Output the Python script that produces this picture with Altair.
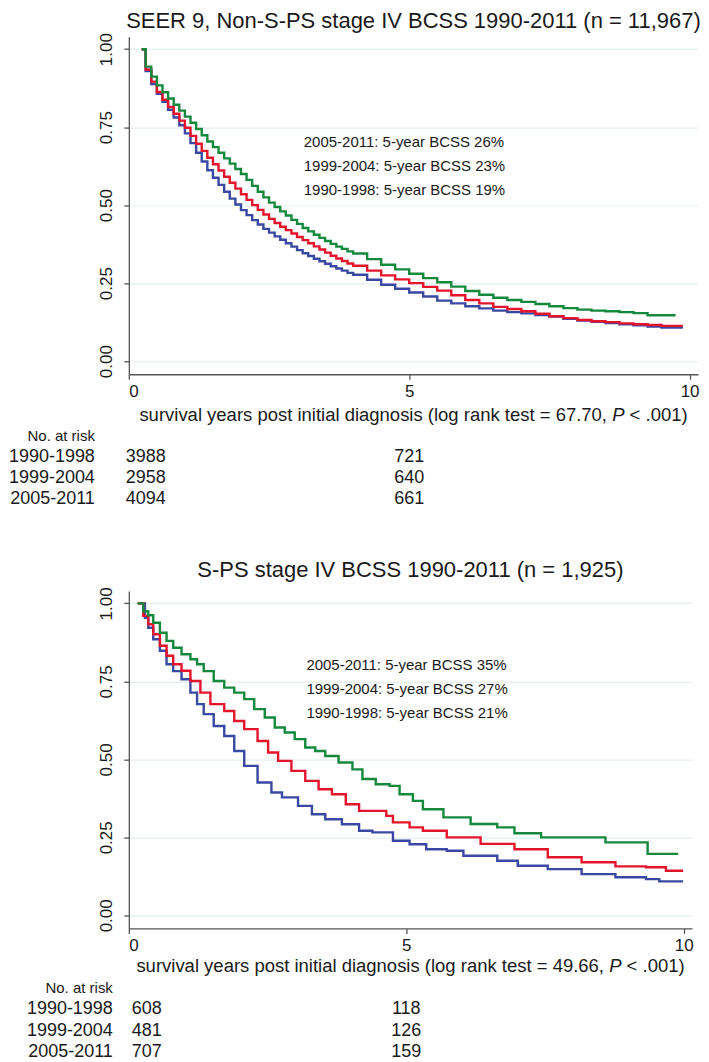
import altair as alt
import pandas as pd

FONT = "Liberation Sans, Arial, Helvetica, sans-serif"
TEXT_C = "#1a1a1a"
AXIS_C = "#555555"
GRID_C = "#e6eff0"

COHORTS = ["1990-1998", "1999-2004", "2005-2011"]
COLORS = ["#3a48a2", "#e3152c", "#14893d"]
RISK_TIMES = [0, 5]

# ---------------- top panel: Non-S-PS ----------------
TOP_TITLE = "SEER 9, Non-S-PS stage IV BCSS 1990-2011 (n = 11,967)"
TOP_LOGRANK = "67.70"
TOP_NOTES = ["2005-2011: 5-year BCSS 26%", "1999-2004: 5-year BCSS 23%", "1990-1998: 5-year BCSS 19%"]
TOP_TIME = [0.23, 0.3, 0.4, 0.5, 0.6, 0.7, 0.8, 0.9, 1.0, 1.1, 1.2, 1.3, 1.4, 1.5, 1.6, 1.7, 1.8, 1.9,
            2.0, 2.1, 2.2, 2.3, 2.4, 2.5, 2.6, 2.7, 2.8, 2.9, 3.0, 3.1, 3.2, 3.3, 3.4, 3.5, 3.6, 3.7,
            3.8, 3.9, 4.0, 4.25, 4.5, 4.75, 5.0, 5.25, 5.5, 5.75, 6.0, 6.25, 6.5, 6.75, 7.0, 7.25,
            7.5, 7.75, 8.0, 8.25, 8.5, 8.75, 9.0, 9.25, 9.5]
TOP_S_1990 = [1.0, .930, .888, .857, .831, .806, .781, .756, .730, .699, .668, .640, .612, .588, .565, .543,
              .521, .502, .484, .468, .452, .438, .424, .412, .400, .389, .378, .367, .356, .346, .337, .328,
              .320, .312, .304, .297, .290, .283, .277, .261, .245, .232, .220, .207, .194, .185, .176, .169,
              .162, .157, .153, .148, .143, .136, .130, .126, .122, .118, .115, .111, .108]
TOP_S_1999 = [1.0, .935, .896, .863, .838, .815, .793, .771, .748, .722, .697, .674, .652, .631, .611, .591,
              .572, .553, .535, .517, .500, .485, .470, .456, .443, .431, .420, .409, .398, .388, .378, .368,
              .358, .348, .338, .329, .321, .313, .306, .290, .275, .262, .250, .238, .226, .211, .196, .185,
              .174, .167, .160, .152, .144, .138, .132, .128, .125, .121, .118, .116, .113]
TOP_S_2005 = [1.0, .944, .912, .884, .862, .842, .822, .803, .784, .764, .744, .724, .704, .686, .668, .650,
              .633, .616, .600, .581, .562, .543, .525, .508, .494, .480, .467, .453, .440, .427, .416, .405,
              .395, .385, .376, .367, .360, .352, .345, .327, .309, .294, .280, .266, .253, .239, .225, .213,
              .203, .196, .190, .183, .176, .170, .165, .162, .160, .157, .154, .147, .147]
TOP_END = [9.88, 9.88, 9.75]
TOP_RISK = [[3988, 721], [2958, 640], [4094, 661]]

# ---------------- bottom panel: S-PS ----------------
BOT_TITLE = "S-PS stage IV BCSS 1990-2011 (n = 1,925)"
BOT_LOGRANK = "49.66"
BOT_NOTES = ["2005-2011: 5-year BCSS 35%", "1999-2004: 5-year BCSS 27%", "1990-1998: 5-year BCSS 21%"]
BOT_T_1990 = [0.16, 0.29, 0.35, 0.44, 0.56, 0.68, 0.80, 0.95, 1.11, 1.23, 1.35, 1.53, 1.72, 1.90, 2.08, 2.32,
              2.57, 2.76, 3.05, 3.30, 3.54, 3.84, 4.15, 4.39, 4.76, 5.06, 5.36, 5.73, 6.03, 6.64, 7.01, 7.55,
              8.16, 8.77, 9.32, 9.56]
BOT_S_1990 = [1.0, .954, .922, .885, .848, .805, .783, .757, .714, .677, .645, .607, .575, .527, .479, .426,
              .394, .378, .351, .324, .308, .292, .271, .266, .239, .228, .212, .207, .191, .175, .159, .148,
              .132, .122, .116, .109]
BOT_T_1999 = [0.16, 0.26, 0.35, 0.44, 0.56, 0.68, 0.80, 0.95, 1.11, 1.29, 1.47, 1.72, 1.90, 2.08, 2.32, 2.51,
              2.69, 2.93, 3.18, 3.42, 3.66, 3.91, 4.15, 4.64, 4.76, 5.06, 5.30, 5.73, 6.34, 6.95, 7.55, 8.16,
              8.77, 9.32, 9.68]
BOT_S_1999 = [1.0, .960, .933, .901, .864, .832, .805, .784, .751, .714, .677, .655, .623, .597, .559, .522,
              .495, .463, .431, .404, .388, .356, .335, .319, .298, .282, .271, .250, .229, .212, .186, .170,
              .157, .154, .143]
BOT_T_2005 = [0.16, 0.26, 0.35, 0.44, 0.56, 0.68, 0.80, 0.95, 1.11, 1.23, 1.35, 1.53, 1.72, 1.90, 2.08, 2.26,
              2.45, 2.63, 2.81, 2.99, 3.18, 3.36, 3.54, 3.78, 4.03, 4.21, 4.45, 4.70, 4.88, 5.12, 5.30, 5.67,
              6.16, 6.64, 6.95, 7.43, 8.59, 9.35]
BOT_S_2005 = [1.0, .975, .962, .938, .906, .880, .858, .837, .821, .805, .783, .751, .730, .714, .693, .661,
              .634, .602, .586, .565, .538, .527, .511, .490, .468, .437, .420, .415, .388, .367, .340, .314,
              .293, .282, .263, .250, .234, .197]
BOT_END = [9.99, 9.99, 9.90]
BOT_RISK = [[608, 118], [481, 126], [707, 159]]

# ---------------- layout constants ----------------
X_DOMAIN = [0, 10.15]
Y_DOMAIN = [-0.042, 1.04]
KM_H = 338


def km_frame(times, values, ends):
    rows = []
    for c, ts, vs, e in zip(COHORTS, times, values, ends):
        for t, s in zip(ts, vs):
            rows.append({"t": t, "S": s, "cohort": c})
        rows.append({"t": e, "S": vs[-1], "cohort": c})
    return pd.DataFrame(rows)


def km_panel(df, title, width, title_offset, notes, note_pos):
    xenc = alt.X("t:Q", scale=alt.Scale(domain=X_DOMAIN, nice=False, zero=False),
                 axis=alt.Axis(values=[0, 5, 10], format="d", title=None, grid=False,
                               domainColor=AXIS_C, domainWidth=1.3, tickColor=AXIS_C, tickWidth=1.3,
                               tickSize=5, labelFontSize=17, labelColor=TEXT_C, labelPadding=4,
                               labelFont=FONT))
    yenc = alt.Y("S:Q", scale=alt.Scale(domain=Y_DOMAIN, nice=False, zero=False),
                 axis=alt.Axis(values=[0, 0.25, 0.5, 0.75, 1.0], format=".2f", title=None, grid=True,
                               gridColor=GRID_C, gridWidth=1.2, domainColor=AXIS_C, domainWidth=1.3,
                               tickColor=AXIS_C, tickWidth=1.3, tickSize=5, labelAngle=270,
                               labelAlign="center", labelBaseline="bottom", labelPadding=8,
                               labelFontSize=17, labelColor=TEXT_C, labelFont=FONT))
    layers = []
    for c, col in zip(COHORTS, COLORS):
        layers.append(
            alt.Chart(df[df.cohort == c])
            .mark_line(interpolate="step-after", strokeWidth=2.4, color=col)
            .encode(x=xenc, y=yenc)
        )
    note_df = pd.DataFrame({"t": [note_pos[0]], "S": [note_pos[1]], "text": ["\n".join(notes)]})
    layers.append(
        alt.Chart(note_df)
        .mark_text(align="left", baseline="middle", lineBreak="\n", lineHeight=24.5,
                   fontSize=15, font=FONT, color=TEXT_C)
        .encode(x=xenc, y=yenc, text="text:N")
    )
    return alt.layer(*layers).properties(
        width=width, height=KM_H,
        title=alt.TitleParams(title, fontSize=22, fontWeight="normal", font=FONT, color=TEXT_C,
                              anchor="middle", offset=title_offset),
    )


def risk_panel(counts, stat, width, height, first_off, step, label_dx, zero_dx):
    d0 = -first_off / step
    d1 = d0 + height / step
    xenc = alt.X("t:Q", scale=alt.Scale(domain=X_DOMAIN, nice=False, zero=False), axis=None)
    yenc = alt.Y("row:Q", scale=alt.Scale(domain=[d0, d1], nice=False, zero=False, reverse=True), axis=None)

    lab_df = pd.DataFrame({"t": [0] * 3, "row": [2, 3, 4], "label": COHORTS})
    hdr_df = pd.DataFrame({"t": [0], "row": [1], "label": ["No. at risk"]})
    cnt = []
    for i, c in enumerate(COHORTS):
        for j, tm in enumerate(RISK_TIMES):
            cnt.append({"t": tm, "row": 2 + i, "n": str(counts[i][j])})
    cnt_df = pd.DataFrame(cnt)
    mid = (X_DOMAIN[0] + X_DOMAIN[1]) / 2
    xl_df = pd.DataFrame({"t": [mid], "row": [0]})

    fs = 18.5
    anchor = 199.0
    space_w = 0.278 * fs
    p_w = 0.667 * fs

    txt = dict(baseline="middle", font=FONT, color=TEXT_C)
    layers = [
        alt.Chart(lab_df).mark_text(align="right", dx=label_dx, fontSize=18, **txt)
        .encode(x=xenc, y=yenc, text="label:N"),
        alt.Chart(hdr_df).mark_text(align="right", dx=label_dx, fontSize=15, **txt)
        .encode(x=xenc, y=yenc, text="label:N"),
        alt.Chart(cnt_df[cnt_df.t == 0]).mark_text(align="left", dx=zero_dx, fontSize=18, **txt)
        .encode(x=xenc, y=yenc, text="n:N"),
        alt.Chart(cnt_df[cnt_df.t == 5]).mark_text(align="center", fontSize=18, **txt)
        .encode(x=xenc, y=yenc, text="n:N"),
        alt.Chart(xl_df).mark_text(align="right", dx=anchor - space_w, fontSize=fs, **txt)
        .encode(x=xenc, y=yenc,
                text=alt.value(f"survival years post initial diagnosis (log rank test = {stat},")),
        alt.Chart(xl_df).mark_text(align="left", dx=anchor, fontSize=fs, fontStyle="italic", **txt)
        .encode(x=xenc, y=yenc, text=alt.value("P")),
        alt.Chart(xl_df).mark_text(align="left", dx=anchor + p_w + space_w, fontSize=fs, **txt)
        .encode(x=xenc, y=yenc, text=alt.value("< .001)")),
    ]
    return alt.layer(*layers).properties(width=width, height=height)


top_df = km_frame([TOP_TIME] * 3, [TOP_S_1990, TOP_S_1999, TOP_S_2005], TOP_END)
bot_df = km_frame([BOT_T_1990, BOT_T_1999, BOT_T_2005], [BOT_S_1990, BOT_S_1999, BOT_S_2005], BOT_END)

km_top = km_panel(top_df, TOP_TITLE, 570, 0, TOP_NOTES, (3.12, 0.704))
risk_top = risk_panel(TOP_RISK, TOP_LOGRANK, 570, 159, 16, 21, -34, -3)
km_bot = km_panel(bot_df, BOT_TITLE, 564, 5, BOT_NOTES, (3.2, 0.804))
risk_bot = risk_panel(BOT_RISK, BOT_LOGRANK, 564, 94, 13, 21.5, -16, 3)

chart = (
    alt.vconcat(km_top, risk_top, km_bot, risk_bot, spacing=0)
    .properties(padding={"left": 0, "right": 0, "top": 0, "bottom": 0})
    .configure(font=FONT)
    .configure_view(stroke=None)
)

chart.save("out.html", embed_options={"renderer": "svg", "actions": False})
